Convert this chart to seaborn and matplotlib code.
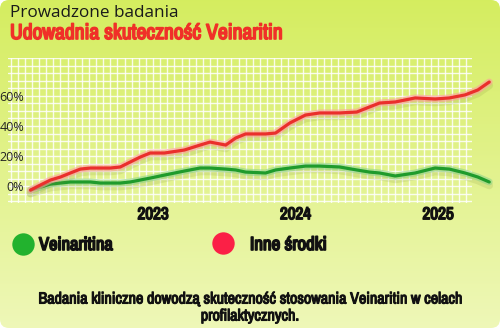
import numpy as np
import pandas as pd
import matplotlib
matplotlib.use("Agg")
import matplotlib.pyplot as plt
import matplotlib.patheffects as pe
from matplotlib.patches import FancyBboxPatch
from matplotlib.ticker import MultipleLocator, FixedLocator
from matplotlib import font_manager as fm
import seaborn as sns

# ---------------- data ----------------
years = [2022.14, 2022.21, 2022.28, 2022.35, 2022.42, 2022.49, 2022.56, 2022.63,
         2022.70, 2022.77, 2022.84, 2022.91, 2022.98, 2023.08, 2023.22, 2023.33,
         2023.40, 2023.51, 2023.58, 2023.65, 2023.79, 2023.86, 2023.96, 2024.07,
         2024.17, 2024.31, 2024.43, 2024.52, 2024.59, 2024.70, 2024.84, 2024.98,
         2025.08, 2025.19, 2025.28, 2025.36]
inne = [-2.7, 0.7, 4.0, 6.0, 8.7, 11.3, 12.0, 12.0, 12.0, 12.7, 16.0, 19.3,
        22.0, 22.0, 24.0, 27.3, 29.3, 27.3, 32.0, 34.7, 34.7, 35.3, 42.0, 47.3,
        48.7, 48.7, 49.3, 52.7, 55.3, 56.0, 58.7, 58.0, 58.7, 60.7, 64.0, 69.3]
veinaritina = [-2.7, -0.7, 1.3, 2.0, 2.7, 2.7, 2.7, 2.0, 2.0, 2.0, 2.7, 4.0,
               5.3, 7.3, 10.0, 12.0, 12.0, 11.3, 10.7, 9.3, 8.7, 10.7, 12.0, 13.3,
               13.3, 12.7, 10.7, 9.3, 8.7, 6.7, 8.7, 12.0, 11.3, 8.7, 6.0, 2.7]
series_names = ["Veinaritina", "Inne środki"]
year_ticks = [2023, 2024, 2025]
y_ticks = [0, 20, 40, 60]
y_tick_labels = ["0%", "20%", "40%", "60%"]
title_small = "Prowadzone badania"
title_big = "Udowadnia skuteczność Veinaritin"
footer = ["Badania kliniczne dowodzą skuteczność stosowania Veinaritin w celach",
          "profilaktycznych."]

df = pd.DataFrame({
    "rok": years * 2,
    "wartosc": veinaritina + inne,
    "seria": [series_names[0]] * len(years) + [series_names[1]] * len(years),
})

# ---------------- fonts ----------------
def has_font(fam):
    try:
        fm.findfont(fm.FontProperties(family=fam), fallback_to_default=False)
        return True
    except Exception:
        return False

cond_fams = sorted({f.name for f in fm.fontManager.ttflist
                    if ("Condensed" in f.name or "Narrow" in f.name)})
if cond_fams:
    COND = [cond_fams[0], "DejaVu Sans"]
elif has_font("Roboto"):
    COND = ["Roboto", "DejaVu Sans"]
else:
    COND = ["Liberation Sans", "DejaVu Sans"]
REG = ["Open Sans", "Noto Sans", "DejaVu Sans"]

sns.set_theme(style="white")
plt.rcParams["font.family"] = ["DejaVu Sans"]

W, H = 500, 328
fig = plt.figure(figsize=(W / 100, H / 100), dpi=100)
fig.patch.set_alpha(0)
renderer = fig.canvas.get_renderer()


def heavy(artist, color, lw):
    artist.set_path_effects([pe.withStroke(linewidth=lw, foreground=color)])


def fit_width(artist, target_px):
    """Scale the font size so the text spans target_px pixels."""
    for _ in range(3):
        w = artist.get_window_extent(renderer=renderer).width
        if w > 0:
            artist.set_fontsize(artist.get_fontsize() * target_px / w)


# ---------------- background ----------------
bg = fig.add_axes([0, 0, 1, 1], zorder=0)
bg.set_xlim(0, W)
bg.set_ylim(H, 0)
bg.axis("off")
top = np.array([0.835, 0.930, 0.375])
bot = np.array([0.935, 0.970, 0.720])
t = np.linspace(0, 1, 256)[:, None]
grad = (top[None, :] * (1 - t) + bot[None, :] * t)[:, None, :].repeat(4, axis=1)
im = bg.imshow(grad, extent=(0, W, H, 0), aspect="auto", zorder=0)
box = FancyBboxPatch((0, 0), W, H, boxstyle="round,pad=0,rounding_size=9",
                     transform=bg.transData, facecolor="none", edgecolor="none")
bg.add_patch(box)
im.set_clip_path(box)

# ---------------- main chart ----------------
ax = fig.add_axes([8 / W, (H - 203) / H, (472 - 8) / W, (203 - 58) / H], zorder=2)
ax.patch.set_alpha(0)
palette = {series_names[0]: "#1f9b2c", series_names[1]: "#ea2f2c"}
sns.lineplot(data=df, x="rok", y="wartosc", hue="seria", palette=palette,
             linewidth=2.3, ax=ax, legend=False, sort=False)
halo = {series_names[0]: "#8fd488", series_names[1]: "#ff9c9c"}
for line, name in zip(ax.lines, series_names):
    line.set_clip_on(False)
    line.set_solid_capstyle("round")
    line.set_solid_joinstyle("round")
    line.set_path_effects([
        pe.Stroke(offset=(0, -2.5), linewidth=5.5, foreground="#7a8a30", alpha=0.15),
        pe.Stroke(linewidth=5.0, foreground=halo[name], alpha=0.6),
        pe.Normal(),
    ])

ax.set_xlim(2021.982, 2025.239)
ax.set_ylim(-11.3, 85.3)
ax.xaxis.set_major_locator(FixedLocator(year_ticks))
ax.xaxis.set_minor_locator(MultipleLocator(0.05))
ax.yaxis.set_major_locator(FixedLocator(y_ticks))
ax.yaxis.set_minor_locator(MultipleLocator(5))
ax.set_xticklabels([str(y) for y in year_ticks])
ax.set_yticklabels(y_tick_labels)
ax.grid(True, which="both", color="white", linewidth=1.0, alpha=0.85)
ax.set_axisbelow(True)
for s in ax.spines.values():
    s.set_visible(False)
ax.tick_params(axis="both", which="both", length=0)
ax.tick_params(axis="x", pad=3.0)
ax.tick_params(axis="y", pad=-11.5)
for lab in ax.get_xticklabels():
    lab.set_family(COND)
    lab.set_fontweight("bold")
    lab.set_fontsize(12)
    lab.set_color("#111111")
    heavy(lab, "#111111", 1.1)
    fit_width(lab, 31)
for lab in ax.get_yticklabels():
    lab.set_family(REG)
    lab.set_fontsize(9)
    lab.set_color("#222222")
ax.set_xlabel("")
ax.set_ylabel("")

# ---------------- titles ----------------
bg.text(10, 13, title_small, family=REG, fontsize=12.3, color="#1a1a1a",
        va="center", ha="left")
tb = bg.text(10, 33, title_big, family=COND, fontweight="bold", fontsize=13,
             color="#f03028", va="center", ha="left")
heavy(tb, "#f03028", 1.2)
fit_width(tb, 272)

# ---------------- legend ----------------
bg.scatter([23], [244], s=260, color="#22b22e", zorder=3, linewidths=0)
bg.scatter([223], [243], s=260, color="#fb2046", zorder=3, linewidths=0)
l1 = bg.text(39, 245, series_names[0], family=COND, fontweight="bold",
             fontsize=13, color="#111111", va="center", ha="left")
l2 = bg.text(250, 245, series_names[1], family=COND, fontweight="bold",
             fontsize=13, color="#111111", va="center", ha="left")
heavy(l1, "#111111", 1.2)
heavy(l2, "#111111", 1.2)
fit_width(l1, 74)
fit_width(l2, 77)

# ---------------- footer ----------------
f1 = bg.text(250, 299, footer[0], family=COND, fontweight="bold", fontsize=10,
             color="#111111", va="center", ha="center")
f2 = bg.text(250, 316, footer[1], family=COND, fontweight="bold", fontsize=10,
             color="#111111", va="center", ha="center")
heavy(f1, "#111111", 0.8)
heavy(f2, "#111111", 0.8)
fit_width(f1, 423)
f2.set_fontsize(f1.get_fontsize())

fig.savefig("out.png", dpi=100, transparent=True)
